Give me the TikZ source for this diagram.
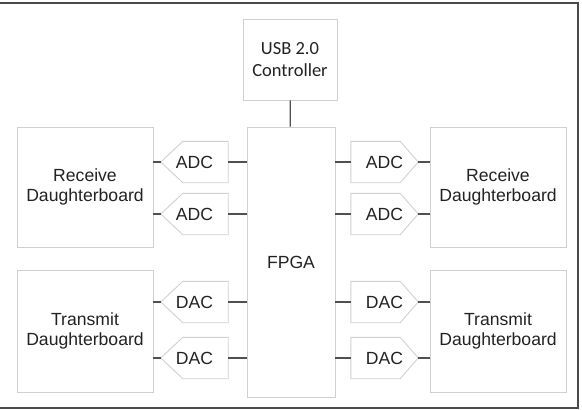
\documentclass[tikz,border=0pt]{standalone}
\usepackage{fontspec}
\setmainfont{Liberation Sans}
\newfontfamily\usbfont{Carlito}
\definecolor{boxgray}{HTML}{D0D0D0}
\definecolor{wiregray}{HTML}{505050}
\definecolor{framegray}{HTML}{4A4A4A}
\definecolor{textgray}{HTML}{222222}

\begin{document}
\begin{tikzpicture}[x=1pt,y=-1pt,
		board/.style={draw=boxgray, line width=0.9pt, rectangle, minimum width=136pt, minimum height=120pt, inner sep=0pt, align=center, text=textgray, font=\fontsize{17.6}{20.5}\selectfont},
		conv/.style={rectangle, minimum width=67pt, minimum height=41pt, inner sep=0pt, text=textgray, font=\fontsize{17.6}{20.5}\selectfont},
		outline/.style={draw=boxgray, line width=0.9pt, line join=miter},
		wire/.style={draw=wiregray, line width=1.2pt}]
		\useasboundingbox (0,0) rectangle (582,410);
		\draw [framegray, line width=1.4pt] (0,3) -- (578,3) -- (578,408) -- (0,408);

		\draw (290,59.5) node [board, minimum width=94pt, minimum height=81pt, font=\usbfont\fontsize{18.5}{22}\selectfont] (usb) {USB 2.0\\Controller};
		\draw (291,262) node [board, minimum width=88pt, minimum height=270pt] (fpga) {FPGA};
		\draw (85,187) node [board] (rxl) {Receive\\Daughterboard};
		\draw (85,331) node [board, minimum height=122pt] (txl) {Transmit\\Daughterboard};
		\draw (498,187) node [board] (rxr) {Receive\\Daughterboard};
		\draw (498,331) node [board, minimum height=122pt] (txr) {Transmit\\Daughterboard};

		\draw (194.5,162) node [conv] (adcla) {ADC};
		\draw (194.5,214) node [conv] (adclb) {ADC};
		\draw (194.5,302) node [conv] (dacla) {DAC};
		\draw (194.5,358) node [conv] (daclb) {DAC};
		\draw (384.5,162) node [conv] (adcra) {ADC};
		\draw (384.5,214) node [conv] (adcrb) {ADC};
		\draw (384.5,302) node [conv] (dacra) {DAC};
		\draw (384.5,358) node [conv] (dacrb) {DAC};

		% pointed outlines of the converters
		\foreach \n in {adcla,adclb,dacla,daclb}
			\draw [outline] (\n.west) -- ([xshift=22pt]\n.north west) -- (\n.north east)
				-- (\n.south east) -- ([xshift=22pt]\n.south west) -- cycle;
		\foreach \n in {adcra,adcrb,dacra,dacrb}
			\draw [outline] (\n.east) -- ([xshift=-18pt]\n.north east) -- (\n.north west)
				-- (\n.south west) -- ([xshift=-18pt]\n.south east) -- cycle;

		\draw [wire]
			(usb) edge (fpga)
			(adcla.west) edge (adcla.west -| rxl.east)
			(adclb.west) edge (adclb.west -| rxl.east)
			(dacla.west) edge (dacla.west -| txl.east)
			(daclb.west) edge (daclb.west -| txl.east)
			(adcla.east) edge (adcla.east -| fpga.west)
			(adclb.east) edge (adclb.east -| fpga.west)
			(dacla.east) edge (dacla.east -| fpga.west)
			(daclb.east) edge (daclb.east -| fpga.west)
			(adcra.west) edge (adcra.west -| fpga.east)
			(adcrb.west) edge (adcrb.west -| fpga.east)
			(dacra.west) edge (dacra.west -| fpga.east)
			(dacrb.west) edge (dacrb.west -| fpga.east)
			(adcra.east) edge (adcra.east -| rxr.west)
			(adcrb.east) edge (adcrb.east -| rxr.west)
			(dacra.east) edge (dacra.east -| txr.west)
			(dacrb.east) edge (dacrb.east -| txr.west)
		;
	\end{tikzpicture}
\end{document}
